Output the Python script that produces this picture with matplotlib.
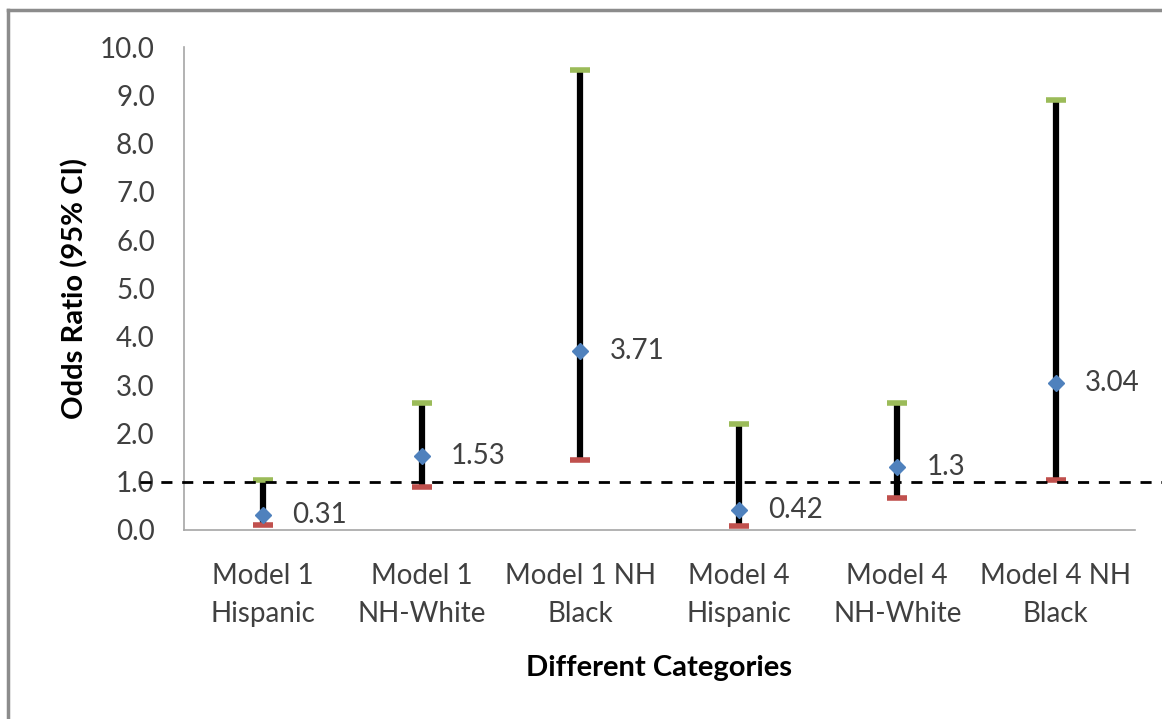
import matplotlib
matplotlib.use("Agg")
import matplotlib.pyplot as plt
from matplotlib.lines import Line2D

categories = ["Model 1\nHispanic", "Model 1\nNH-White", "Model 1 NH\nBlack",
              "Model 4\nHispanic", "Model 4\nNH-White", "Model 4 NH\nBlack"]
odds_ratio = [0.31, 1.53, 3.71, 0.42, 1.3, 3.04]
ci_upper = [1.03, 2.63, 9.52, 2.2, 2.63, 8.9]
ci_lower = [0.1, 0.89, 1.45, 0.08, 0.66, 1.03]
point_labels = ["0.31", "1.53", "3.71", "0.42", "1.3", "3.04"]
yticks = [0, 1, 2, 3, 4, 5, 6, 7, 8, 9, 10]

plt.rcParams['font.family'] = ['Lato', 'DejaVu Sans']

W, H = 1162, 719
fig = plt.figure(figsize=(W / 100, H / 100), dpi=100)
ax = fig.add_axes([184 / W, 1 - 530 / H, (1135 - 184) / W, (530 - 47) / H])

x = list(range(len(categories)))
ax.set_xlim(-0.5, len(categories) - 0.5)
ax.set_ylim(0, 10)

# confidence interval stems
ax.vlines(x, ci_lower, ci_upper, colors="black", linewidth=4.5, zorder=3)
# caps for upper and lower bounds
ax.plot(x, ci_upper, linestyle="none", marker="_", markersize=14,
        markeredgewidth=4, color="#9BBB59", zorder=4)
ax.plot(x, ci_lower, linestyle="none", marker="_", markersize=14,
        markeredgewidth=4, color="#C0504D", zorder=4)
# point estimates
ax.plot(x, odds_ratio, linestyle="none", marker="D", markersize=8.5,
        color="#4F81BD", zorder=5)

for xi, yi, lab in zip(x, odds_ratio, point_labels):
    ax.annotate(lab, (xi, yi), xytext=(21, 0), textcoords="offset points",
                ha="left", va="center", fontsize=20, color="#404040")

ax.set_yticks(yticks)
ax.set_yticklabels([f"{v:.1f}" for v in yticks], fontsize=20, color="#404040")
ax.set_xticks(x)
ax.set_xticklabels(categories, fontsize=20, color="#404040", linespacing=1.55)
ax.tick_params(axis="both", length=0)
ax.tick_params(axis="y", pad=21)
ax.tick_params(axis="x", pad=24)

for side in ["top", "right"]:
    ax.spines[side].set_visible(False)
for side in ["left", "bottom"]:
    ax.spines[side].set_color("#a6a6a6")
    ax.spines[side].set_linewidth(1.2)

ax.set_ylabel("Odds Ratio (95% CI)", fontsize=21, fontweight="bold",
              color="black", labelpad=8)
ax.set_xlabel("Different Categories", fontsize=21, fontweight="bold",
              color="black", labelpad=20)

# reference line at odds ratio 1, running across the whole chart width
y_ref = ax.transData.transform((0, 1.0))[1] / fig.dpi / fig.get_size_inches()[1]
fig.add_artist(Line2D([140 / W, 1.0], [y_ref, y_ref], color="black",
                      linewidth=2, linestyle=(0, (4, 3.5)), zorder=6))

# chart frame
fig.add_artist(Line2D([8 / W, 8 / W], [0, 1 - 10 / H], color="#8c8c8c", linewidth=2.5))
fig.add_artist(Line2D([8 / W, 1.0], [1 - 10 / H, 1 - 10 / H], color="#8c8c8c", linewidth=2.5))

fig.savefig("out.png", dpi=100, facecolor="white")
